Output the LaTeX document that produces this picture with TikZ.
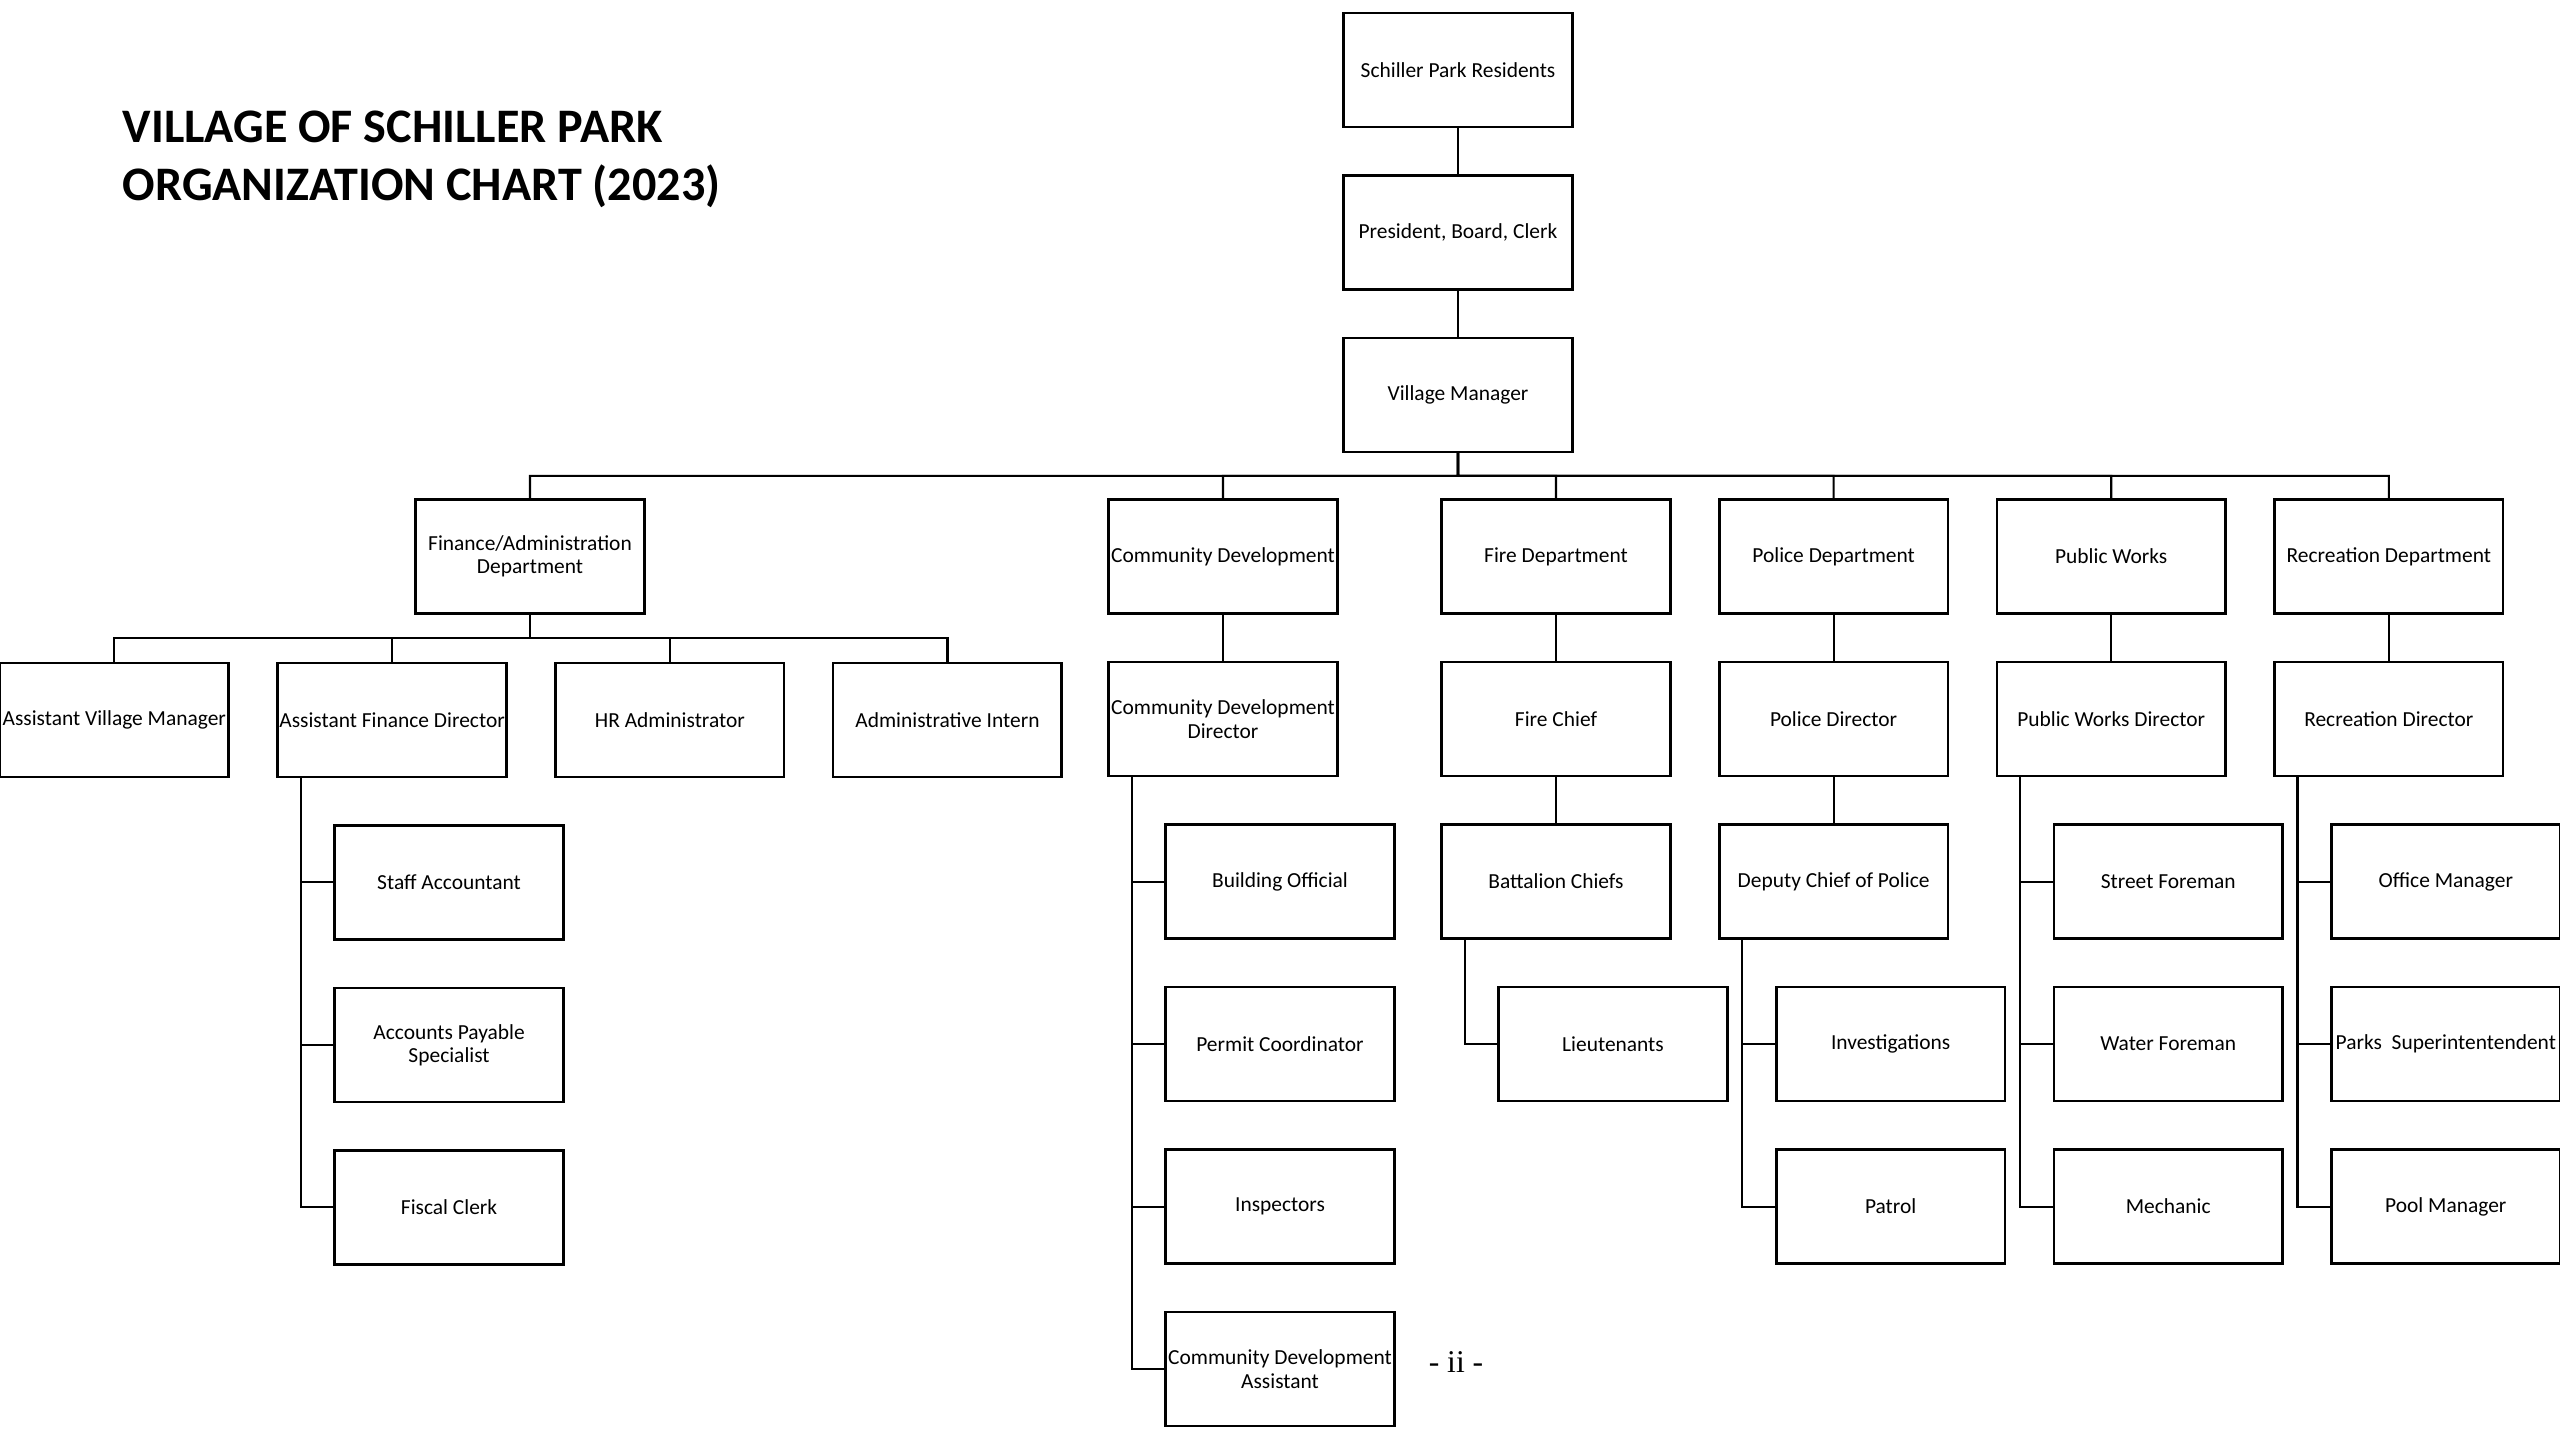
\documentclass[tikz,border=0pt]{standalone}
\usepackage{fontspec}
\setmainfont{Carlito}
\newfontfamily\pagefont{Liberation Serif}
\usepackage{tikz}
\usetikzlibrary{positioning,calc}

\begin{document}
\begin{tikzpicture}[
node distance=4.85mm and 4.9mm,
box/.style={rectangle,draw=black,line width=0.75pt,outer sep=0pt,minimum width=2.286cm,minimum height=1.14cm,inner sep=0.5pt,align=center,font=\fontsize{6.1}{6.6}\selectfont},
sub/.style={box,xshift=5.7mm},
link/.style={draw=black,line width=0.6pt}
]
\useasboundingbox (0,0) rectangle (25.6,-14.28);
\node[anchor=north west,inner sep=0pt,align=left,font=\fontsize{13.7}{16.6}\selectfont\bfseries] (title) at (1.22,-1.1) {VILLAGE OF SCHILLER PARK\\ORGANIZATION CHART (2023)};

\node[box] (res) at (14.58,-0.70) {Schiller Park Residents};
\node[box,below=of res] (pres) {President, Board, Clerk};
\node[box,below=of pres] (vm) {Village Manager};

\node[box] (fin) at (5.30,-5.566) {Finance/Administration\\Department};
\node[box] (cd) at (12.23,-5.566) {Community Development};
\node[box] (fire) at (15.56,-5.566) {Fire Department};
\node[box,right=of fire] (pol) {Police Department};
\node[box,right=of pol] (pw) {Public Works};
\node[box,right=of pw] (rec) {Recreation Department};

\node[box] (avm) at (1.143,-7.199) {Assistant Village Manager};
\node[box,right=of avm] (afd) {Assistant Finance Director};
\node[box,right=of afd] (hr) {HR Administrator};
\node[box,right=of hr] (intern) {Administrative Intern};
\node[sub,below=of afd] (staff) {Staff Accountant};
\node[box,below=of staff] (ap) {Accounts Payable\\Specialist};
\node[box,below=of ap] (fiscal) {Fiscal Clerk};

\node[box,below=of cd] (cdd) {Community Development\\Director};
\node[sub,below=of cdd] (bo) {Building Official};
\node[box,below=of bo] (permit) {Permit Coordinator};
\node[box,below=of permit] (insp) {Inspectors};
\node[box,below=of insp] (cda) {Community Development\\Assistant};

\node[box,below=of fire] (fchief) {Fire Chief};
\node[box,below=of fchief] (bc) {Battalion Chiefs};
\node[sub,below=of bc] (lt) {Lieutenants};

\node[box,below=of pol] (pdir) {Police Director};
\node[box,below=of pdir] (dep) {Deputy Chief of Police};
\node[sub,below=of dep] (inv) {Investigations};
\node[box,below=of inv] (patrol) {Patrol};

\node[box,below=of pw] (pwdir) {Public Works Director};
\node[sub,below=of pwdir] (street) {Street Foreman};
\node[box,below=of street] (water) {Water Foreman};
\node[box,below=of water] (mech) {Mechanic};

\node[box,below=of rec] (recdir) {Recreation Director};
\node[sub,below=of recdir] (office) {Office Manager};
\node[box,below=of office] (parks) {Parks~ Superintentendent};
\node[box,below=of parks] (pool) {Pool Manager};

\node[font=\pagefont\fontsize{9}{10}\selectfont] (pg) at (14.56,-13.62) {- ii -};

\draw[link] (res) -- (pres);
\draw[link] (pres) -- (vm);
\coordinate (bus) at ($(vm.south)!0.5!(vm.south |- fire.north)$);
\foreach \d in {fin,cd,fire,pol,pw,rec}
  \draw[link] (vm.south) -- (bus) -| (\d.north);
\coordinate (fbus) at ($(fin.south)!0.5!(fin.south |- afd.north)$);
\foreach \c in {avm,afd,hr,intern}
  \draw[link] (fin.south) -- (fbus) -| (\c.north);
\foreach \c in {staff,ap,fiscal}
  \draw[link] ([xshift=2.3mm]afd.south west) |- (\c.west);
\draw[link] (cd) -- (cdd);
\foreach \c in {bo,permit,insp,cda}
  \draw[link] ([xshift=2.3mm]cdd.south west) |- (\c.west);
\draw[link] (fire) -- (fchief);
\draw[link] (fchief) -- (bc);
\draw[link] ([xshift=2.3mm]bc.south west) |- (lt.west);
\draw[link] (pol) -- (pdir);
\draw[link] (pdir) -- (dep);
\foreach \c in {inv,patrol}
  \draw[link] ([xshift=2.3mm]dep.south west) |- (\c.west);
\draw[link] (pw) -- (pwdir);
\foreach \c in {street,water,mech}
  \draw[link] ([xshift=2.3mm]pwdir.south west) |- (\c.west);
\draw[link] (rec) -- (recdir);
\foreach \c in {office,parks,pool}
  \draw[link] ([xshift=2.3mm]recdir.south west) |- (\c.west);
\end{tikzpicture}
\end{document}
